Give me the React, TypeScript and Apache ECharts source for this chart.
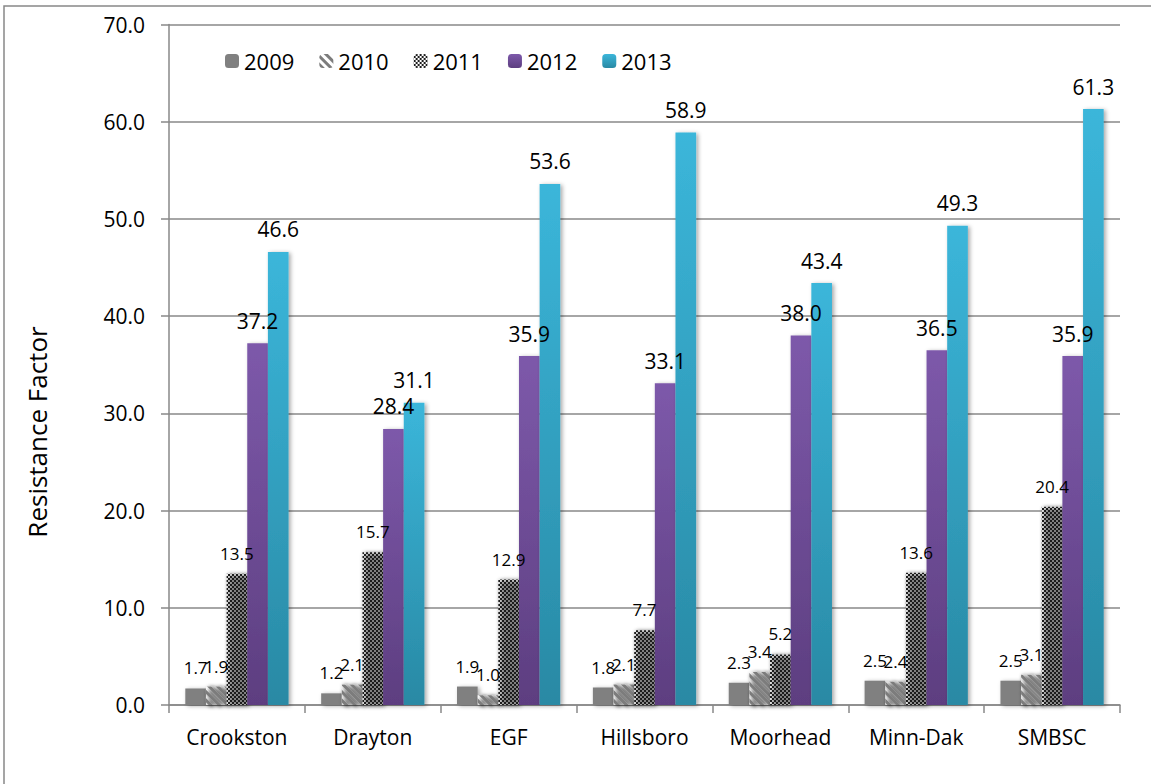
import React, { useEffect, useRef } from "react";
import * as echarts from "echarts";

// Resistance factor by factory district and year
const plants = ["Crookston", "Drayton", "EGF", "Hillsboro", "Moorhead", "Minn-Dak", "SMBSC"];
const years = ["2009", "2010", "2011", "2012", "2013"];
const v2009 = [1.7, 1.2, 1.9, 1.8, 2.3, 2.5, 2.5];
const v2010 = [1.9, 2.1, 1.0, 2.1, 3.4, 2.4, 3.1];
const v2011 = [13.5, 15.7, 12.9, 7.7, 5.2, 13.6, 20.4];
const v2012 = [37.2, 28.4, 35.9, 33.1, 38.0, 36.5, 35.9];
const v2013 = [46.6, 31.1, 53.6, 58.9, 43.4, 49.3, 61.3];
const yTitle = "Resistance Factor";

const FONT = "'Open Sans', 'Noto Sans', sans-serif";
const GRID_GRAY = "#888888";

const grad = (top: string, bottom: string) => ({
  type: "linear",
  x: 0,
  y: 0,
  x2: 0,
  y2: 1,
  colorStops: [
    { offset: 0, color: top },
    { offset: 1, color: bottom },
  ],
});

const shadow = {
  shadowColor: "rgba(0,0,0,0.35)",
  shadowBlur: 4,
  shadowOffsetX: 2,
  shadowOffsetY: 1,
};

export default function App() {
  const ref = useRef<HTMLDivElement>(null);

  useEffect(() => {
    if (!ref.current) return;
    const chart = echarts.init(ref.current, undefined, { renderer: "svg" });

    const label = (size: number, dx = 0) => ({
      show: true,
      position: "top",
      distance: 12,
      offset: [dx, 0],
      color: "#000",
      fontFamily: FONT,
      fontSize: size,
      formatter: (p: any) => Number(p.value).toFixed(1),
    });

    const styles: any[] = [
      { color: "#808080", ...shadow },
      {
        color: "#ffffff",
        decal: {
          symbol: "rect",
          symbolSize: 1,
          color: "#7c7c7c",
          backgroundColor: "#ffffff",
          dashArrayX: [1, 0],
          dashArrayY: [3, 3],
          rotation: Math.PI / 4,
        },
        ...shadow,
      },
      {
        color: "#ffffff",
        decal: {
          symbol: "rect",
          symbolSize: 1,
          color: "#1e1e1e",
          backgroundColor: "#ffffff",
          dashArrayX: [
            [2, 2],
            [0, 2, 2, 0],
          ],
          dashArrayY: [2, 0],
        },
        ...shadow,
      },
      { color: grad("#7d59aa", "#5d3e80"), ...shadow },
      { color: grad("#3bb6da", "#2989a4"), ...shadow },
    ];
    const values = [v2009, v2010, v2011, v2012, v2013];
    const labelSizes = [17, 17, 17, 21, 21];
    const labelDx = [0, 0, 0, 0, 4];

    const series = years.map((y, i) => ({
      name: y,
      type: "bar",
      data: values[i],
      barGap: "0%",
      barCategoryGap: "24%",
      itemStyle: styles[i],
      label: label(labelSizes[i], labelDx[i]),
      labelLayout: { hideOverlap: false },
    }));

    chart.setOption({
      animation: false,
      backgroundColor: "#ffffff",
      grid: { left: 169, right: 31, top: 24.5, bottom: 79, containLabel: false },
      legend: {
        data: years,
        left: 225,
        top: 50,
        padding: 0,
        itemWidth: 14,
        itemHeight: 14,
        itemGap: 25,
        textStyle: { fontFamily: FONT, fontSize: 22, color: "#000" },
      },
      xAxis: {
        type: "category",
        data: plants,
        axisLine: { lineStyle: { color: GRID_GRAY, width: 1.5 } },
        axisTick: { show: true, length: 8, lineStyle: { color: GRID_GRAY, width: 1.5 } },
        axisLabel: {
          color: "#000",
          fontFamily: FONT,
          fontSize: 21,
          margin: 21,
          interval: 0,
          hideOverlap: false,
        },
      },
      yAxis: {
        type: "value",
        min: 0,
        max: 70,
        interval: 10,
        axisLine: { show: true, lineStyle: { color: GRID_GRAY, width: 1.5 } },
        axisTick: { show: true, length: 8, lineStyle: { color: GRID_GRAY, width: 1.5 } },
        axisLabel: {
          color: "#000",
          fontFamily: FONT,
          fontSize: 21,
          margin: 24,
          formatter: (v: number) => v.toFixed(1),
        },
        splitLine: { show: true, lineStyle: { color: GRID_GRAY, width: 1.5 } },
      },
      graphic: [
        {
          type: "rect",
          silent: true,
          shape: { x: 4, y: 6, width: 1300, height: 900 },
          style: { fill: "none", stroke: GRID_GRAY, lineWidth: 1.5 },
        },
        {
          type: "text",
          x: 37,
          y: 432,
          rotation: Math.PI / 2,
          style: {
            text: yTitle,
            fill: "#000",
            font: `26px ${FONT}`,
            textAlign: "center",
            textVerticalAlign: "middle",
          },
        },
      ],
      series,
    });

    return () => chart.dispose();
  }, []);

  return (
    <div
      ref={ref}
      style={{ position: "fixed", left: 0, top: 0, width: 1151, height: 784 }}
    />
  );
}
